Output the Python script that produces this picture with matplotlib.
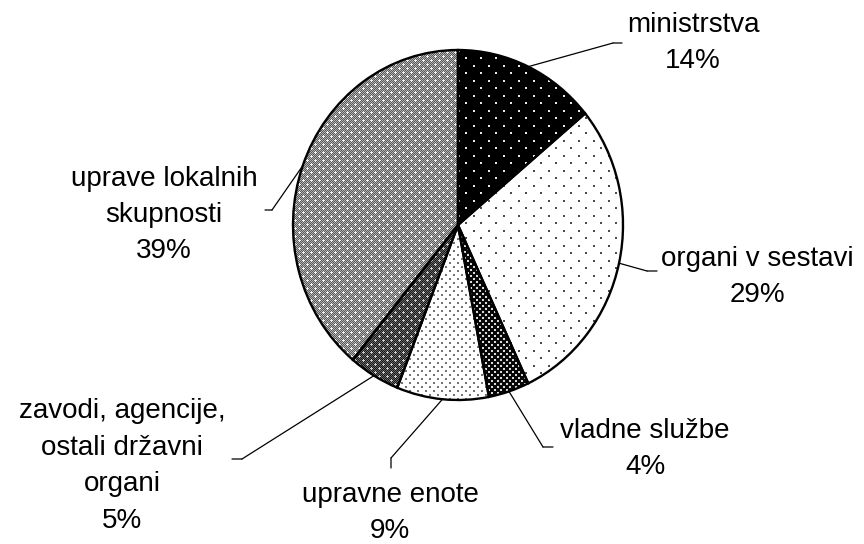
import matplotlib
matplotlib.use("Agg")
import matplotlib.pyplot as plt
import numpy as np

plt.rcParams.update({
    'font.family': ['Liberation Sans', 'DejaVu Sans'],
    'font.size': 20,
})

# data
labels = ["ministrstva", "organi v sestavi", "vladne službe", "upravne enote",
          "zavodi, agencije,\nostali državni\norgani", "uprave lokalnih\nskupnosti"]
shares = [14, 29, 4, 9, 5, 39]

W, H = 864, 544
fig = plt.figure(figsize=(W / 100, H / 100), dpi=100)

# pie is slightly taller than wide in the reference
cx, cy, rx, ry = 458, 225, 165, 175
ax = fig.add_axes([(cx - rx) / W, (H - cy - ry) / H, 2 * rx / W, 2 * ry / H])
wedges, _ = ax.pie(shares, startangle=90, counterclock=False, radius=1,
                   wedgeprops=dict(edgecolor="black", linewidth=1.7))
ax.set_aspect("auto")


def dots(w, h, bg, fg, pts, size=2):
    t = np.full((h, w), float(bg))
    for x, y in pts:
        t[y:y + size, x:x + size] = fg
    return t


def crossy(lo, hi, cross):
    t = np.zeros((8, 8))
    yy, xx = np.mgrid[0:8, 0:8]
    t[:] = np.where((xx + yy) % 2 == 0, lo, hi)
    for x, y in [(2, 2), (6, 6)]:
        t[y, x] = cross
        for dx, dy in [(1, 0), (-1, 0), (0, 1), (0, -1)]:
            t[(y + dy) % 8, (x + dx) % 8] = cross
    return t


tiles = [
    dots(15, 15, 0.0, 0.9, [(0, 0), (7, 7)]),
    dots(15, 15, 1.0, 0.3, [(0, 0), (7, 7)]),
    dots(6, 6, 0.03, 0.85, [(0, 0), (3, 3)]),
    dots(8, 8, 1.0, 0.45, [(0, 0), (4, 4)]),
    crossy(0.1, 0.4, 0.8),
    crossy(0.35, 0.7, 0.95),
]

pw, ph = 2 * rx, 2 * ry
for w, tile in zip(wedges, tiles):
    th, tw = tile.shape
    img = np.tile(tile, (ph // th + 1, pw // tw + 1))[:ph, :pw]
    im = ax.imshow(img, extent=(-1, 1, -1, 1), cmap="gray", vmin=0, vmax=1,
                   interpolation="nearest", aspect="auto", zorder=2)
    im.set_clip_path(w)
    w.set_facecolor("none")
    w.set_zorder(3)

ax.set_xlim(-1, 1)
ax.set_ylim(-1, 1)
ax.axis("off")

# label block centres, leader elbow and tail end (pixels from top-left)
text_pos = [(693, 43), (757, 277), (645, 449), (390, 513), (122, 466), (164, 215)]
elbows = [(613, 43), (647, 271), (543, 447), (391, 458), (242, 459), (272, 210)]
tails = [(622, 43), (657, 271), (553, 447), (391, 468), (232, 459), (265, 210)]

for w, lab, pct, (tx, ty), (ex, ey), (sx, sy) in zip(wedges, labels, shares,
                                                      text_pos, elbows, tails):
    mid = np.deg2rad((w.theta1 + w.theta2) / 2)
    lp = dict(arrowstyle="-", lw=0.9, color="black", shrinkA=0, shrinkB=0)
    ax.annotate("", xy=(np.cos(mid), np.sin(mid)), xycoords="data",
                xytext=(ex, H - ey), textcoords="figure pixels",
                arrowprops=lp, zorder=4)
    ax.annotate("", xy=(ex, H - ey), xycoords="figure pixels",
                xytext=(sx, H - sy), textcoords="figure pixels",
                arrowprops=lp, zorder=4)
    fig.text(tx / W, 1 - ty / H, f"{lab}\n{pct}%", ha="center", va="center",
             multialignment="center", linespacing=1.52, color="black")

fig.savefig("out.png", dpi=100)
